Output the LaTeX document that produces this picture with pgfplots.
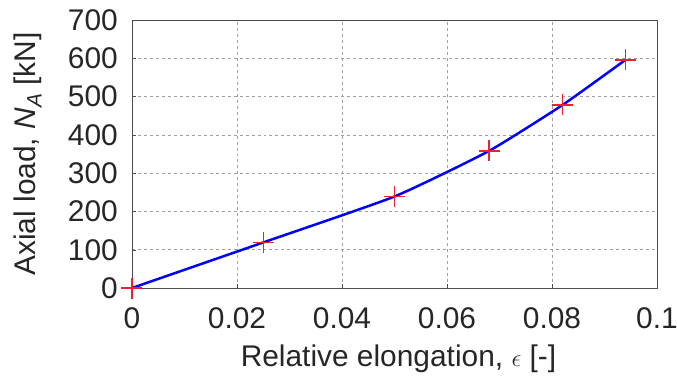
\documentclass[border=0pt]{standalone}
\usepackage{pgfplots}
\pgfplotsset{compat=1.18}
\usepackage{fontspec}
\setmainfont{Liberation Sans}
\definecolor{mkred}{RGB}{240,30,50}
\begin{document}
\color{mkred}%
\begin{tikzpicture}[color=mkred]
\useasboundingbox (-132bp,-91bp) rectangle (545bp,288bp);
\begin{axis}[
  at={(0,0)}, anchor=south west,
  scale only axis,
  width=525bp, height=268bp,
  xmin=0, xmax=0.1, ymin=0, ymax=700,
  xtick={0,0.02,0.04,0.06,0.08,0.1},
  xticklabels={0,0.02,0.04,0.06,0.08,0.1},
  ytick={0,100,...,700},
  /pgf/number format/assume math mode=true,
  tick label style={font=\fontsize{30}{34}\selectfont, text=black!85},
  grid=major,
  grid style={dashed, gray!75, line width=0.6pt},
  axis line style={black!70, line width=0.8pt},
  tick style={black!70},
  tick align=inside,
  xtick pos=bottom, ytick pos=left,
  xticklabel style={anchor=base, inner sep=0pt, yshift=-40bp},
  yticklabel style={anchor=east, inner sep=0pt, xshift=-14bp},
  xlabel={Relative elongation, $\epsilon$ [-]},
  ylabel={Axial load, {\itshape N}\raisebox{-0.35ex}{\fontsize{21}{23}\selectfont\itshape A} [kN]},
  every axis x label/.style={at={(axis description cs:0.5,0)}, anchor=base, yshift=-78bp, xshift=4bp, font=\fontsize{30}{34}\selectfont, text=black!85},
  every axis y label/.style={at={(axis description cs:0,0.5)}, xshift=-96bp, rotate=90, anchor=base, font=\fontsize{30}{34}\selectfont, text=black!85},
  clip=false,
]
\addplot[blue, line width=2.5pt, smooth, tension=0.3] coordinates {
  (0,0) (0.025,119) (0.05,239) (0.068,358) (0.082,478) (0.094,596)
};
\addplot[only marks, mark=+, mkred, mark size=10.5bp, mark options={mkred, line width=1.4pt}] coordinates {
  (0,0) (0.025,119) (0.05,239) (0.068,358) (0.082,478) (0.094,596)
};
\end{axis}
\end{tikzpicture}
\end{document}
